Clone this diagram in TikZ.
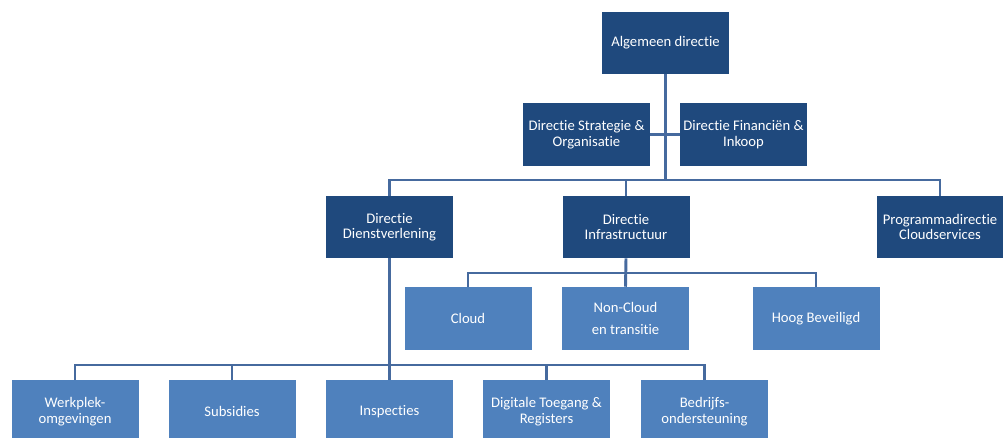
\documentclass[tikz,border=0pt]{standalone}
\usepackage{fontspec}
\setmainfont{Carlito}[Ligatures={NoCommon,NoContextual}]
\definecolor{darkbox}{RGB}{31,73,125}
\definecolor{lightbox}{RGB}{79,129,189}
\definecolor{conn}{RGB}{70,106,158}
\tikzset{
  org/.style={rectangle, inner sep=0pt, minimum width=127*0.75pt, minimum height=62*0.75pt,
    text=white, align=center, font=\fontsize{11}{11.6}\selectfont},
  darkunit/.style={org, fill=darkbox},
  lightunit/.style={org, fill=lightbox, minimum height=63*0.75pt},
  link/.style={draw=conn, line width=2.2pt}
}
\begin{document}
\begin{tikzpicture}[x=0.75pt,y=-0.75pt]
\useasboundingbox (0,0) rectangle (1003,437);
\clip (0,0) rectangle (1003,437);
% nodes
\node[darkunit] (top) at (665.5,42.5) {Algemeen directie};
\node[darkunit, minimum height=63*0.75pt] (strat) at (586.5,134.5) {Directie Strategie \&\\Organisatie};
\node[darkunit, minimum height=63*0.75pt] (fin) at (743.5,134.5) {Directie Financi\"en \&\\Inkoop};
\node[darkunit] (dienst) at (389.5,227) {Directie\\Dienstverlening};
\node[darkunit] (infra) at (626,227) {Directie\\Infrastructuur};
\node[darkunit] (prog) at (940,227) {Programmadirectie\\Cloudservices};
\node[lightunit] (cloud) at (468,318.5) {Cloud};
\node[lightunit] (noncloud) at (625.5,318.5) {Non-Cloud\\[5pt]en transitie};
\node[lightunit] (hoog) at (816,318.5) {Hoog Beveiligd};
\node[lightunit] (werk) at (75,411.5) {Werkplek-\\omgevingen};
\node[lightunit] (subs) at (232,411.5) {Subsidies};
\node[lightunit] (insp) at (389.5,411.5) {Inspecties};
\node[lightunit] (digi) at (546.5,411.5) {Digitale Toegang \&\\Registers};
\node[lightunit] (bedr) at (704.5,411.5) {Bedrijfs-\\ondersteuning};
% bus coordinates
\coordinate (b1) at (665.5,180);
\coordinate (b2) at (626,273);
\coordinate (b3) at (389.5,365);
% connectors
\draw[link] (top.south) -- (b1);
\draw[link] (strat.east) -- (fin.west);
\draw[link] (dienst.north) |- (b1) -| (prog.north);
\draw[link] (infra.north) -- (infra.north |- b1);
\draw[link] (infra.south) -- (noncloud.north);
\draw[link] (cloud.north) |- (b2) -| (hoog.north);
\draw[link] (dienst.south) -- (insp.north);
\draw[link] (werk.north) |- (b3) -| (bedr.north);
\draw[link] (subs.north) -- (subs.north |- b3);
\draw[link] (digi.north) -- (digi.north |- b3);
\end{tikzpicture}
\end{document}
